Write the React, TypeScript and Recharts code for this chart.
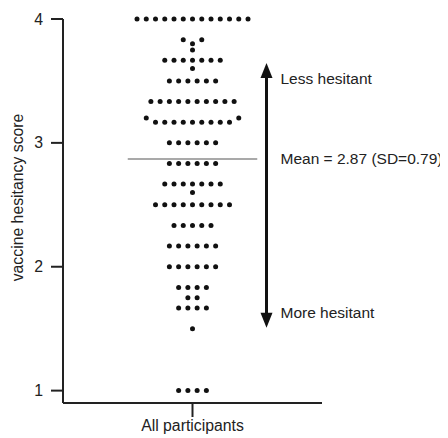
import {
  ScatterChart,
  Scatter,
  XAxis,
  YAxis,
  ReferenceLine,
  ReferenceDot,
} from 'recharts'

// one row of dots per distinct score, counts
const scoreLevels = [
  4, 3.833, 3.8, 3.75, 3.667, 3.6, 3.5, 3.333, 3.2, 3.167, 3, 2.833, 2.667, 2.6,
  2.5, 2.333, 2.167, 2, 1.833, 1.75, 1.667, 1.5, 1,
]
const participantCounts = [
  13, 2, 1, 1, 7, 1, 6, 10, 2, 9, 6, 6, 7, 1, 9, 5, 6, 6, 4, 2, 4, 1, 4,
]
const yTicks = [1, 2, 3, 4]
const categoryLabel = 'All participants'
const meanScore = 2.87
const sdScore = 0.79
const arrowTop = 3.645
const arrowBottom = 1.508

// rows that sit around a neighbouring row get pushed apart (swarm layout)
const rowGap: Record<number, number> = { 3.833: 2, 3.2: 10 }

const INK = '#222'
const FONT = 15.5

const dots = scoreLevels.flatMap((score, i) => {
  const n = participantCounts[i]
  const gap = rowGap[score] ?? 1
  return Array.from({ length: n }, (_, k) => ({
    x: (k - (n - 1) / 2) * gap,
    y: score,
  }))
})

// eslint-disable-next-line @typescript-eslint/no-explicit-any
function Dot(props: any) {
  return <circle cx={props.cx} cy={props.cy} r={2.5} fill="#111" />
}

// eslint-disable-next-line @typescript-eslint/no-explicit-any
function Arrow(props: any) {
  const { x1, y1, y2 } = props
  const top = Math.min(y1, y2)
  const bottom = Math.max(y1, y2)
  const head = 15
  const half = 6
  return (
    <g>
      <line x1={x1} x2={x1} y1={top + head - 1} y2={bottom - head + 1} stroke="#111" strokeWidth={3} />
      <polygon points={`${x1},${top} ${x1 - half},${top + head} ${x1 + half},${top + head}`} fill="#111" />
      <polygon points={`${x1},${bottom} ${x1 - half},${bottom - head} ${x1 + half},${bottom - head}`} fill="#111" />
    </g>
  )
}

function YTitle() {
  return (
    <text
      x={9}
      y={189.5}
      transform="rotate(-90 9 189.5)"
      textAnchor="middle"
      dominantBaseline="central"
      fill={INK}
      fontSize={15.8}
    >
      vaccine hesitancy score
    </text>
  )
}

const note = (value: string) => ({ value, position: 'right' as const, offset: 14, fill: INK, fontSize: FONT })

export default function App() {
  return (
    <div style={{ fontFamily: '"Liberation Sans", Arial, sans-serif' }}>
      <ScatterChart width={440} height={430} margin={{ top: 11, right: 126, bottom: 0, left: 15 }}>
        <XAxis
          type="number"
          dataKey="x"
          domain={[-14, 14]}
          ticks={[0]}
          tickFormatter={() => categoryLabel}
          height={35}
          tickSize={14}
          tickMargin={3}
          stroke={INK}
          strokeWidth={2}
          tick={{ fill: INK, fontSize: 15.8 }}
        />
        <YAxis
          type="number"
          dataKey="y"
          domain={[0.9, 4]}
          ticks={yTicks}
          width={40}
          tickSize={12}
          tickMargin={8}
          stroke={INK}
          strokeWidth={2}
          tick={{ fill: INK, fontSize: 15.8 }}
          label={<YTitle />}
        />
        <ReferenceLine
          segment={[{ x: -7, y: meanScore }, { x: 7, y: meanScore }]}
          stroke="#8c8c8c"
          strokeWidth={1.5}
        />
        <ReferenceLine
          segment={[{ x: 8, y: arrowTop }, { x: 8, y: arrowBottom }]}
          shape={<Arrow />}
        />
        <Scatter data={dots} shape={<Dot />} isAnimationActive={false} />
        <ReferenceDot x={8} y={3.52} r={0} stroke="none" label={note('Less hesitant')} />
        <ReferenceDot x={8} y={meanScore} r={0} stroke="none" label={note(`Mean = ${meanScore} (SD=${sdScore})`)} />
        <ReferenceDot x={8} y={1.63} r={0} stroke="none" label={note('More hesitant')} />
      </ScatterChart>
    </div>
  )
}
